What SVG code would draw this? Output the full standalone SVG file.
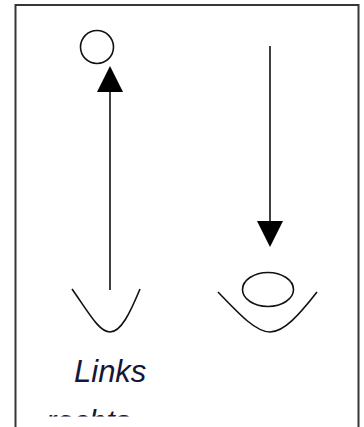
<svg xmlns="http://www.w3.org/2000/svg" width="364" height="427" viewBox="0 0 364 427">
  <style>
    .frame { fill: none; stroke: #363636; stroke-width: 2; }
    .shape { fill: none; stroke: #111; stroke-width: 1.6; }
    .conn { fill: none; stroke: #111; stroke-width: 1.6; }
    .label { font-family: "Liberation Sans", Arial, sans-serif; font-style: italic; font-size: 31px; fill: #16163a; }
  </style>
  <defs>
    <marker id="head" viewBox="0 0 26 26" refX="0" refY="13" markerWidth="26" markerHeight="26" markerUnits="userSpaceOnUse" orient="auto">
      <path d="M0,0 L26,13 L0,26 Z" fill="#000"/>
    </marker>
    <clipPath id="bottomCut">
      <rect x="0" y="0" width="364" height="416.5"/>
    </clipPath>
  </defs>

  <!-- outer frame, open past the lower edge -->
  <rect class="frame" x="15.5" y="5" width="343" height="450"/>

  <g id="ball-top">
    <circle class="shape" cx="97" cy="47" r="16.5"/>
  </g>

  <g id="cup-left">
    <path class="shape" d="M72,289 C89,313 99,332 110,332 C121,332 130,313 140,289"/>
  </g>

  <g id="cup-right">
    <ellipse class="shape" cx="268" cy="289.5" rx="25.5" ry="17"/>
    <path class="shape" d="M218,292 C240,315 256,332 270,332 C284,332 299,315 317,292"/>
  </g>

  <g id="connectors">
    <line class="conn" x1="110" y1="290" x2="110" y2="92" marker-end="url(#head)"/>
    <line class="conn" x1="270" y1="46" x2="270" y2="221" marker-end="url(#head)"/>
  </g>

  <g id="label-links">
    <text class="label" x="74" y="382">Links</text>
  </g>

  <g id="label-rechts" clip-path="url(#bottomCut)">
    <text class="label" x="46" y="432">rechts</text>
  </g>
</svg>
